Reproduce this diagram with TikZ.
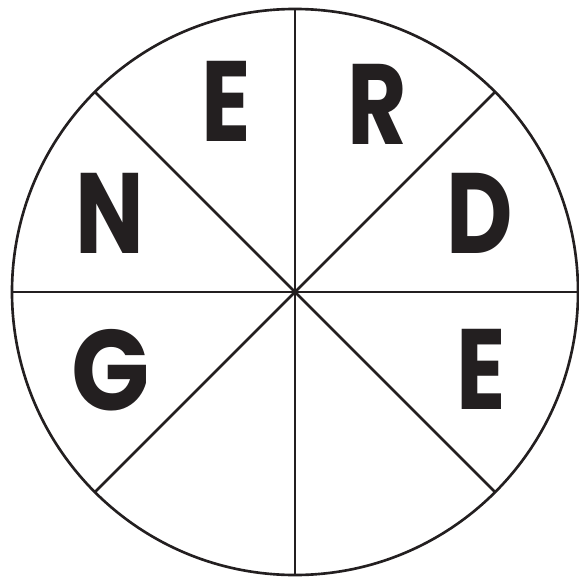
\documentclass[tikz,border=0pt]{standalone}
\usepackage{fontspec}
\newfontfamily\letterfont{Poppins}[FakeStretch=0.8]
\newfontfamily\roundfont{Poppins}[FakeStretch=0.9]
\usepackage{tikz}
\definecolor{ink}{HTML}{231F20}

\begin{document}
\begin{tikzpicture}[x=0.01cm,y=-0.01cm,line width=0.75pt,
    letter/.style={font=\letterfont\bfseries\fontsize{32.5}{32.5}\selectfont,
        anchor=base,inner sep=0pt,text=ink},
    round letter/.style={letter,font=\roundfont\bfseries\fontsize{32.5}{32.5}\selectfont}]
        \useasboundingbox (0,0) rectangle (579,579);
        \coordinate (O) at (295,292);

        % circle and the eight spokes
        \draw[ink] (O) circle (0.01*283cm);
        \foreach \a in {0,45,...,315}
            \draw[ink] (O) -- ++(\a:0.01*283cm);

        % letters
        \node[letter] (e1) at (226,142) {E};
        \node[letter] (r) at (377,145) {R};
        \node[letter] (d) at (480,253) {D};
        \node[letter] (e2) at (481,409) {E};
        \node[round letter] (g) at (111,410) {G};
        \node[letter] (n) at (110,253) {N};
    \end{tikzpicture}
\end{document}
